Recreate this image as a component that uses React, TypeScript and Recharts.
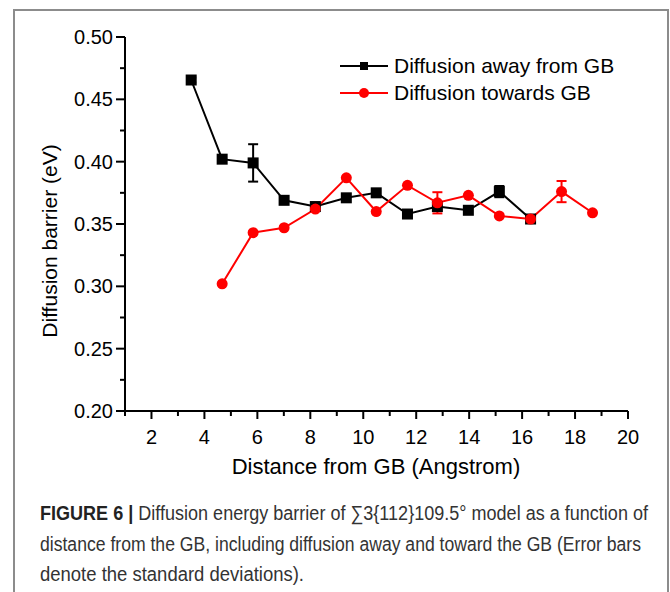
import { ComposedChart, Line, XAxis, YAxis, ErrorBar } from 'recharts';

// distance from GB (Angstrom) and barrier (eV)
const distAway = [3.5, 4.67, 5.84, 7.01, 8.19, 9.36, 10.49, 11.67, 12.8, 13.97, 15.14, 16.32];
const barrierAway = [0.4655, 0.402, 0.399, 0.369, 0.364, 0.371, 0.375, 0.358, 0.364, 0.361, 0.376, 0.354];
const errAway = [0.002, null, 0.015, null, null, null, null, null, null, null, 0.0045, null];

const distTowards = [4.67, 5.84, 7.01, 8.19, 9.36, 10.49, 11.67, 12.8, 13.97, 15.14, 16.32, 17.49, 18.66];
const barrierTowards = [0.302, 0.343, 0.347, 0.362, 0.387, 0.36, 0.381, 0.367, 0.373, 0.3565, 0.354, 0.376, 0.359];
const errTowards = [null, null, null, null, null, null, null, 0.0085, null, null, null, 0.0085, null];

const xTicks = [1, 2, 3, 4, 5, 6, 7, 8, 9, 10, 11, 12, 13, 14, 15, 16, 17, 18, 19, 20];
const yTicks = [0.2, 0.225, 0.25, 0.275, 0.3, 0.325, 0.35, 0.375, 0.4, 0.425, 0.45, 0.475, 0.5];

const legendItems = [
  { name: 'Diffusion away from GB', color: '#000000', shape: 'square' },
  { name: 'Diffusion towards GB', color: '#ff0000', shape: 'circle' },
];

const captionLines = [
  { text: 'Diffusion energy barrier of ∑3{112}109.5° model as a function of', bold: 'FIGURE 6 | ', len: 608 },
  { text: 'distance from the GB, including diffusion away and toward the GB (Error bars', bold: '', len: 601 },
  { text: 'denote the standard deviations).', bold: '', len: 264 },
];

const awayData = distAway.map((d, i) => ({ d, v: barrierAway[i], err: errAway[i] }));
const towardsData = distTowards.map((d, i) => ({ d, v: barrierTowards[i], err: errTowards[i] }));

const FONT = '"Liberation Sans", Arial, Helvetica, sans-serif';

const XTick = ({ x, y, payload }: any) => {
  const major = payload.value % 2 === 0;
  return (
    <g>
      <line x1={x} x2={x} y1={y} y2={y + (major ? 8 : 5)} stroke="#000" strokeWidth={2} />
      {major && (
        <text x={x} y={y + 33} textAnchor="middle" fontSize={20} fontFamily={FONT} fill="#000">
          {payload.value}
        </text>
      )}
    </g>
  );
};

const YTick = ({ x, y, payload }: any) => {
  const major = Math.round(payload.value * 1000) % 50 === 0;
  return (
    <g>
      <line x1={x - (major ? 9 : 5)} x2={x} y1={y} y2={y} stroke="#000" strokeWidth={2} />
      {major && (
        <text x={x - 12} y={y + 7} textAnchor="end" fontSize={20} fontFamily={FONT} fill="#000">
          {payload.value.toFixed(2)}
        </text>
      )}
    </g>
  );
};

const SquareDot = (props: any) => {
  const { cx, cy, index } = props;
  if (cx == null || cy == null) return <g key={index} />;
  return <rect key={index} x={cx - 5.5} y={cy - 5.5} width={11} height={11} fill="#000" />;
};

const CircleDot = (props: any) => {
  const { cx, cy, index } = props;
  if (cx == null || cy == null) return <g key={index} />;
  return <circle key={index} cx={cx} cy={cy} r={5.5} fill="#ff0000" />;
};

const LegendBox = () => (
  <div style={{ position: 'absolute', left: 340, top: 52, fontFamily: FONT, fontSize: 21, color: '#000' }}>
    {legendItems.map((it) => (
      <div key={it.name} style={{ display: 'flex', alignItems: 'center', height: 27 }}>
        <svg width={54} height={14}>
          <line x1={0} x2={48} y1={7} y2={7} stroke={it.color} strokeWidth={2} />
          {it.shape === 'square'
            ? <rect x={20} y={3} width={8} height={8} fill={it.color} />
            : <circle cx={24} cy={7} r={5} fill={it.color} />}
        </svg>
        <span>{it.name}</span>
      </div>
    ))}
  </div>
);

export default function App() {
  return (
    <div style={{ position: 'absolute', left: 0, top: 0, width: 670, height: 592, background: '#fff', overflow: 'hidden' }}>
      <div style={{
        position: 'absolute', left: 13, top: 9, width: 652, height: 600,
        border: '2px solid #8c8c8c', borderBottom: 'none',
      }} />
      <div style={{ position: 'absolute', left: 0, top: 0 }}>
        <ComposedChart width={670} height={592} margin={{ top: 37, right: 42, bottom: 121, left: 0 }}>
          <XAxis
            dataKey="d"
            type="number"
            domain={[1, 20]}
            ticks={xTicks}
            interval={0}
            tick={<XTick />}
            tickSize={0}
            tickMargin={0}
            height={60}
            axisLine={{ stroke: '#000', strokeWidth: 2 }}
            allowDuplicatedCategory={false}
            label={{
              content: () => (
                <text x={376} y={474} textAnchor="middle" fontSize={22} fontFamily={FONT} fill="#000">
                  Distance from GB (Angstrom)
                </text>
              ),
            }}
          />
          <XAxis
            xAxisId="top"
            orientation="top"
            type="number"
            domain={[1, 20]}
            height={0}
            tick={false}
            tickLine={false}
            axisLine={{ stroke: '#000', strokeWidth: 2 }}
          />
          <YAxis
            type="number"
            domain={[0.2, 0.5]}
            ticks={yTicks}
            interval={0}
            tick={<YTick />}
            tickSize={0}
            tickMargin={0}
            width={125}
            axisLine={{ stroke: '#000', strokeWidth: 2 }}
            label={{
              content: () => (
                <text
                  transform="translate(57,241) rotate(-90)"
                  textAnchor="middle"
                  fontSize={21}
                  fontFamily={FONT}
                  fill="#000"
                >
                  Diffusion barrier (eV)
                </text>
              ),
            }}
          />
          <YAxis
            yAxisId="right"
            orientation="right"
            type="number"
            domain={[0.2, 0.5]}
            width={0}
            tick={false}
            tickLine={false}
            axisLine={{ stroke: '#000', strokeWidth: 2 }}
          />
          <Line
            data={awayData}
            dataKey="v"
            name="Diffusion away from GB"
            stroke="#000"
            strokeWidth={2}
            dot={SquareDot}
            activeDot={false}
            isAnimationActive={false}
          >
            <ErrorBar dataKey="err" direction="y" width={5} stroke="#000" strokeWidth={2} isAnimationActive={false} />
          </Line>
          <Line
            data={towardsData}
            dataKey="v"
            name="Diffusion towards GB"
            stroke="#ff0000"
            strokeWidth={2}
            dot={CircleDot}
            activeDot={false}
            isAnimationActive={false}
          >
            <ErrorBar dataKey="err" direction="y" width={5} stroke="#ff0000" strokeWidth={2} isAnimationActive={false} />
          </Line>
        </ComposedChart>
      </div>
      <LegendBox />
      <svg style={{ position: 'absolute', left: 0, top: 490 }} width={670} height={102}>
        {captionLines.map((ln, i) => (
          <text
            key={i}
            x={40}
            y={30 + i * 30.5}
            textLength={ln.len}
            lengthAdjust="spacingAndGlyphs"
            fontFamily={FONT}
            fontSize={20}
            fill="#333"
          >
            {ln.bold && <tspan fontWeight="bold" fill="#222">{ln.bold}</tspan>}
            {ln.text}
          </text>
        ))}
      </svg>
    </div>
  );
}
